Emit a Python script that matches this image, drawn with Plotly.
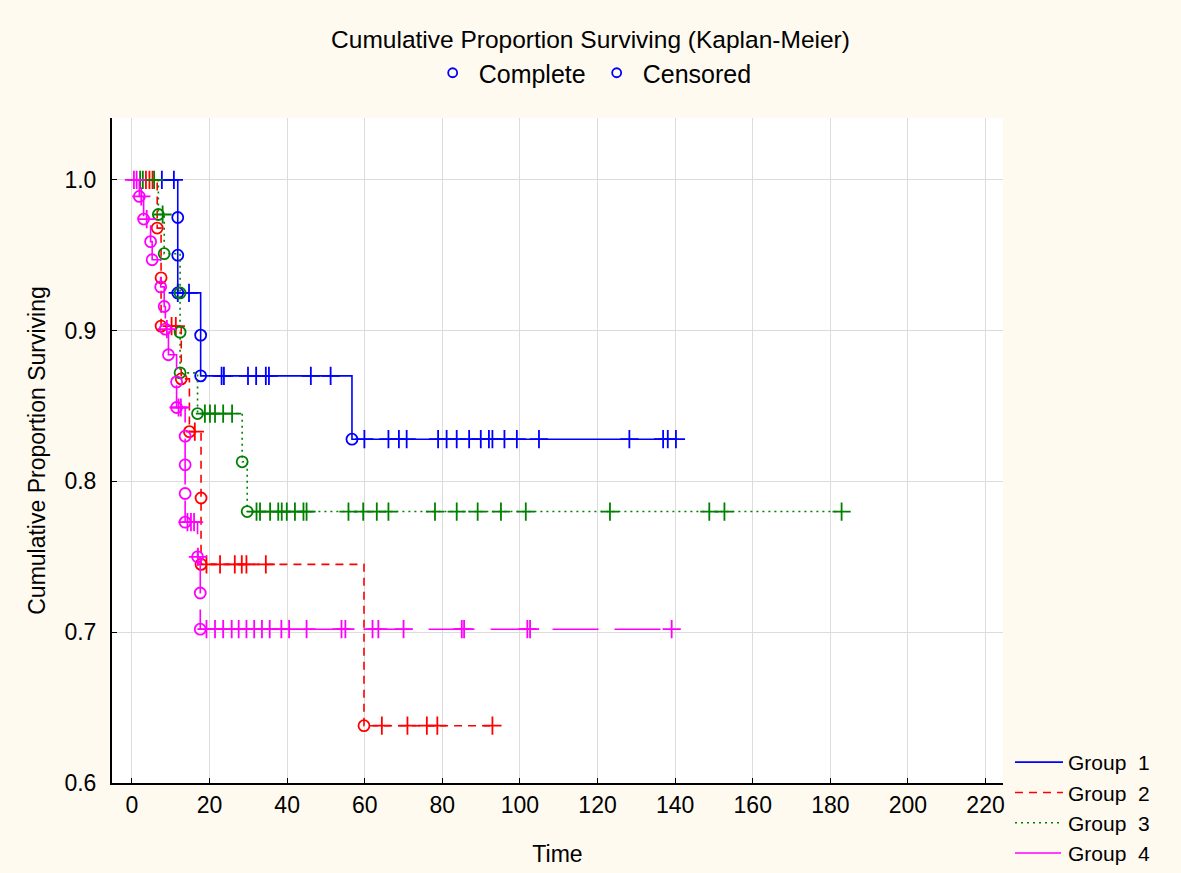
import plotly.graph_objects as go

# ---- Kaplan-Meier data: event times (Complete) with survival after each event,
# ---- and censored times (plotted on the current survival level)

# Group 1
g1_event_t = [11.8, 11.8, 11.8, 17.7, 17.7, 56.7]
g1_event_s = [0.975, 0.950, 0.925, 0.897, 0.870, 0.828]
g1_cens_t = [7.7, 10.8, 11.8, 14.7, 23.1, 23.7, 29.9, 32.0, 34.5, 35.3, 46.1, 51.2,
             59.9, 66.1, 68.8, 70.8, 78.9, 81.1, 83.7, 86.9, 89.9, 92.0, 92.9, 96.0,
             99.2, 104.9, 128.2, 136.9, 138.1, 140.2]

# Group 2
g2_event_t = [6.5, 7.5, 7.5, 12.7, 14.8, 17.8, 17.8, 59.8]
g2_event_s = [0.968, 0.935, 0.903, 0.868, 0.833, 0.789, 0.745, 0.638]
g2_cens_t = [3.6, 4.5, 5.3, 10.2, 11.3, 16.2, 19.2, 22.7, 26.5, 28.3, 29.5, 34.5,
             64.4, 71.0, 76.0, 78.7, 92.9]

# Group 3
g3_event_t = [6.8, 8.3, 12.4, 12.4, 12.4, 16.9, 28.4, 29.7]
g3_event_s = [0.977, 0.951, 0.925, 0.899, 0.872, 0.845, 0.813, 0.780]
g3_cens_t = [2.1, 2.8, 5.7, 7.9, 18.8, 20.1, 21.4, 23.5, 25.8,
             32.1, 33.0, 35.6, 37.7, 38.6, 39.9, 42.0, 44.2, 45.0, 55.8, 59.6, 63.1,
             66.1, 78.1, 83.7, 89.1, 95.1, 101.5, 123.2, 148.8, 152.7, 182.9]

# Group 4
g4_event_t = [1.9, 3.0, 4.8, 5.2, 7.4, 8.3, 8.6, 9.4, 11.5, 11.5, 13.7, 13.7, 13.7,
              13.7, 16.9, 17.6, 17.6]
g4_event_s = [0.989, 0.974, 0.959, 0.947, 0.929, 0.916, 0.901, 0.884, 0.866, 0.849,
              0.830, 0.811, 0.792, 0.773, 0.750, 0.726, 0.702]
g4_cens_t = [0.5, 1.2, 2.4, 3.8, 9.0, 12.0, 12.6, 14.3, 15.2, 16.0, 17.0,
             19.2, 21.4, 23.5, 25.7, 27.5, 29.5, 31.5, 33.5, 35.5, 38.5, 40.5, 45.0,
             54.0, 55.0, 62.0, 63.5, 70.0, 85.0, 85.6, 101.9, 102.6, 139.1]

group_names = ["Group\u00a0\u00a01", "Group\u00a0\u00a02", "Group\u00a0\u00a03", "Group\u00a0\u00a04"]
group_colors = ["#0000FF", "#FF0000", "#008000", "#FF00FF"]
group_dashes = ["solid", "8px,6px", "2px,4px", "46px,16px"]

x_ticks = [0, 20, 40, 60, 80, 100, 120, 140, 160, 180, 200, 220]
y_ticks = [0.6, 0.7, 0.8, 0.9, 1.0]

groups = [
    (g1_event_t, g1_event_s, g1_cens_t),
    (g2_event_t, g2_event_s, g2_cens_t),
    (g3_event_t, g3_event_s, g3_cens_t),
    (g4_event_t, g4_event_s, g4_cens_t),
]


def level_at(t, ev_t, ev_s):
    s = 1.0
    for et, es in zip(ev_t, ev_s):
        if et <= t:
            s = es
    return s


def step_path(ev_t, ev_s, cens_t):
    start = min(ev_t[0], cens_t[0])
    end = max(ev_t[-1], cens_t[-1])
    xs, ys = [start], [1.0]
    for t, s in zip(ev_t, ev_s):
        xs += [t, t]
        ys += [ys[-1], s]
    xs.append(end)
    ys.append(ys[-1])
    return xs, ys


FONT = "Liberation Sans, Arial, sans-serif"
fig = go.Figure()

for (ev_t, ev_s, cens_t), name, color, dash in zip(groups, group_names, group_colors, group_dashes):
    xs, ys = step_path(ev_t, ev_s, cens_t)
    fig.add_trace(go.Scatter(
        x=xs, y=ys, mode="lines", name=name, legend="legend2",
        line=dict(color=color, width=1.6, dash=dash),
        hoverinfo="skip",
    ))
    fig.add_trace(go.Scatter(
        x=ev_t, y=ev_s, mode="markers", showlegend=False,
        marker=dict(symbol="circle-open", size=11, color=color, line=dict(width=1.8)),
    ))
    fig.add_trace(go.Scatter(
        x=cens_t, y=[level_at(t, ev_t, ev_s) for t in cens_t], mode="markers",
        showlegend=False,
        marker=dict(symbol="cross-thin-open", size=13, color=color, line=dict(width=1.8, color=color)),
    ))

# marker-type key at the top
for label in ["Complete", "Censored"]:
    fig.add_trace(go.Scatter(
        x=[None], y=[None], mode="markers", name=label, legend="legend",
        marker=dict(symbol="circle-open", size=9, color="#0000FF", line=dict(width=1.8)),
    ))

fig.update_layout(
    width=1181, height=873,
    margin=dict(l=112, r=178, t=118, b=90, autoexpand=False),
    paper_bgcolor="#FFFAF0",
    plot_bgcolor="#FFFFFF",
    font=dict(family=FONT, size=23, color="#000000"),
    title=dict(text="Cumulative Proportion Surviving (Kaplan-Meier)", x=0.5, xanchor="center",
               y=1 - 39 / 873, yanchor="middle", font=dict(size=24.5)),
    showlegend=True,
    legend=dict(orientation="h", xref="container", yref="container", x=0.501, xanchor="center",
                y=1 - 73 / 873, yanchor="middle", bgcolor="rgba(0,0,0,0)",
                font=dict(size=25), itemwidth=42),
    legend2=dict(xref="container", yref="container", x=1010 / 1181, xanchor="left",
                 y=1 - 742 / 873, yanchor="top", bgcolor="rgba(0,0,0,0)",
                 font=dict(size=21), itemwidth=48, tracegroupgap=0),
    xaxis=dict(range=[-5.15, 224.5], tickvals=x_ticks, ticks="inside", ticklen=5,
               tickcolor="#000000", showgrid=True, gridcolor="#DCDCDC", gridwidth=1,
               zeroline=False, showline=True, linecolor="#000000", linewidth=2,
               title=dict(text="Time", standoff=29, font=dict(size=23)),
               tickfont=dict(size=23)),
    yaxis=dict(range=[0.6, 1.041], tickvals=y_ticks, tickformat=".1f", ticks="inside",
               ticklen=5, tickcolor="#000000", showgrid=True, gridcolor="#DCDCDC",
               gridwidth=1, zeroline=False, showline=True, linecolor="#000000", linewidth=2,
               ticklabelstandoff=9,
               title=dict(text="Cumulative Proportion Surviving", standoff=12, font=dict(size=23)),
               tickfont=dict(size=23)),
)

fig.write_html("out.html")
